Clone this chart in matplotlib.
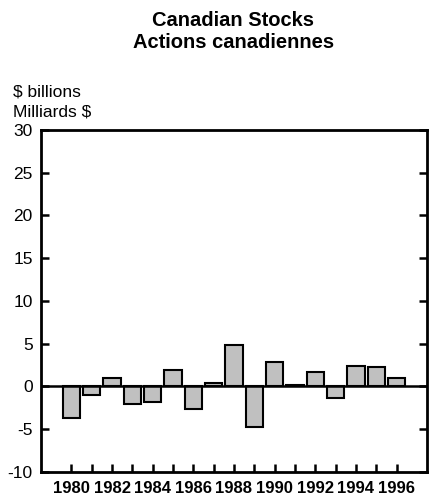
import matplotlib.pyplot as plt

plt.rcParams['font.family'] = ['Liberation Sans', 'DejaVu Sans']

years = list(range(1980, 1997))
values = [-3.7, -1.0, 1.0, -2.0, -1.85, 1.9, -2.6, 0.45, 4.8, -4.7,
          2.85, 0.2, 1.75, -1.4, 2.4, 2.3, 0.95]
yticks = [-10, -5, 0, 5, 10, 15, 20, 25, 30]
xlabels = [str(y) if y % 2 == 0 else '' for y in years]

fig = plt.figure(figsize=(4.31, 4.96), dpi=100)
ax = fig.add_axes([0.0951, 0.0484, 0.8956, 0.6895])

ax.bar(years, values, width=0.85, color='#c0c0c0', edgecolor='black',
       linewidth=1.5, zorder=2)
ax.axhline(0, color='black', linewidth=1.8, zorder=3)

ax.set_xlim(1978.5, 1997.5)
ax.set_ylim(-10, 30)
ax.set_yticks(yticks)
ax.set_yticklabels([str(v) for v in yticks], fontsize=12.5)
ax.set_xticks(years)
ax.set_xticklabels(xlabels, fontsize=12, fontweight='bold')

for s in ax.spines.values():
    s.set_linewidth(2)

ax.tick_params(axis='y', direction='in', length=6, width=1.8, right=True, pad=6)
ax.tick_params(axis='x', direction='in', length=6, width=1.8, pad=6.5)

fig.text(0.541, 0.958, 'Canadian Stocks', ha='center', va='center',
         fontsize=14.5, fontweight='bold')
fig.text(0.541, 0.914, 'Actions canadiennes', ha='center', va='center',
         fontsize=14.5, fontweight='bold')
fig.text(0.030, 0.814, '$ billions', ha='left', va='center', fontsize=12.5)
fig.text(0.030, 0.774, 'Milliards $', ha='left', va='center', fontsize=12.5)

fig.savefig('out.png', dpi=100)
